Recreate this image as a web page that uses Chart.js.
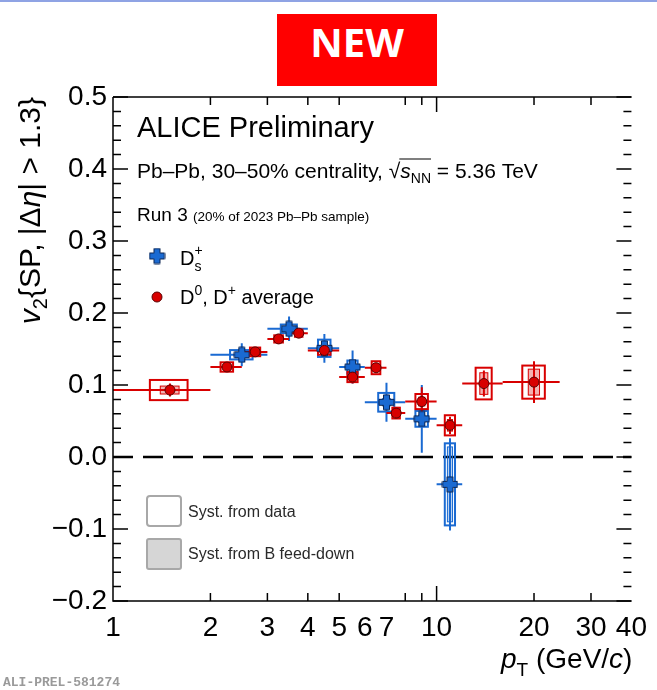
<!DOCTYPE html>
<html>
<head>
<meta charset="utf-8">
<script src="https://cdn.jsdelivr.net/npm/chart.js@4.4.1/dist/chart.umd.min.js"></script>
<style>
  html, body { margin: 0; padding: 0; background: #fff; }
  #wrap { position: relative; width: 657px; height: 690px; overflow: hidden; }
  #topline { position: absolute; left: 0; top: 0; width: 657px; height: 2px; background: #8fa3e4; }
  #badge {
    position: absolute; left: 277px; top: 14px; width: 160px; height: 72px;
    background: #ff0000; color: #fff; text-align: center; line-height: 72px;
    font: bold 40px "Liberation Sans Narrow", "Open Sans", sans-serif;
  }
  #tag {
    position: absolute; left: 3px; top: 675px; color: #9a9a9a;
    font: bold 13px "Liberation Mono", "DejaVu Sans Mono", monospace;
  }
  canvas { position: absolute; left: 0; top: 0; }
</style>
</head>
<body>
<div id="wrap">
  <canvas id="v2chart" width="657" height="690"></canvas>
  <div id="topline"></div>
  <div id="badge">NEW</div>
  <div id="tag">ALI-PREL-581274</div>
</div>
<script>
// D_s+ : pT bins, v2 and uncertainties
const dsPt   = [2.5, 3.5, 4.5, 5.5, 7, 9, 11];
const dsLow  = [2, 3, 4, 5, 6, 8, 10];
const dsHigh = [3, 4, 5, 6, 8, 10, 12];
const dsV2   = [0.142, 0.178, 0.151, 0.125, 0.076, 0.053, -0.038];
const dsStat = [0.016, 0.017, 0.020, 0.023, 0.027, 0.047, 0.064];
const dsSyst = [0.0065, 0.006, 0.012, 0.009, 0.013, 0.011, 0.057];
const dsFd   = [0.003, 0.003, 0.004, 0.004, 0.005, 0.005, 0.052];

// D0, D+ average
const dPt   = [1.5, 2.25, 2.75, 3.25, 3.75, 4.5, 5.5, 6.5, 7.5, 9, 11, 14, 20];
const dLow  = [1, 2, 2.5, 3, 3.5, 4, 5, 6, 7, 8, 10, 12, 16];
const dHigh = [2, 2.5, 3, 3.5, 4, 5, 6, 7, 8, 10, 12, 16, 24];
const dV2   = [0.093, 0.125, 0.146, 0.164, 0.172, 0.148, 0.111, 0.124, 0.061, 0.077, 0.044, 0.102, 0.104];
const dStat = [0.009, 0.004, 0.004, 0.004, 0.004, 0.005, 0.009, 0.006, 0.007, 0.020, 0.012, 0.018, 0.029];
const dSyst = [0.014, 0.0065, 0.006, 0.005, 0.005, 0.006, 0.007, 0.009, 0.0075, 0.0105, 0.014, 0.022, 0.023];
const dFd   = [0.0055, 0.003, 0.003, 0.003, 0.003, 0.003, 0.004, 0.005, 0.005, 0.006, 0.008, 0.015, 0.018];

// axis labelling
const xTickLabels = [1, 2, 3, 4, 5, 6, 7, 10, 20, 30, 40];
const xTickMarks  = [2, 3, 4, 5, 8, 9, 10, 20, 30];

const BLUE = '#1a6ad2';
const RED = '#d80000';
const FONT = '"Liberation Sans", Arial, sans-serif';

// filled thick cross used for the D_s marker
function plusMarker(size, arm, fill, edge) {
  const c = document.createElement('canvas');
  c.width = size; c.height = size;
  const g = c.getContext('2d');
  const m = size / 2, h = size / 2 - 1, a = arm / 2;
  g.beginPath();
  g.moveTo(m - a, m - h); g.lineTo(m + a, m - h); g.lineTo(m + a, m - a);
  g.lineTo(m + h, m - a); g.lineTo(m + h, m + a); g.lineTo(m + a, m + a);
  g.lineTo(m + a, m + h); g.lineTo(m - a, m + h); g.lineTo(m - a, m + a);
  g.lineTo(m - h, m + a); g.lineTo(m - h, m - a); g.lineTo(m - a, m - a);
  g.closePath();
  g.fillStyle = fill; g.fill();
  g.strokeStyle = edge; g.lineWidth = 1; g.stroke();
  return c;
}
const dsMarker = plusMarker(17, 6, BLUE, '#0b2552');

// text with sub/superscripts: each part {t, size, italic, dy, stack}
function richText(ctx, x, y, parts, align) {
  const fontOf = p => (p.italic ? 'italic ' : '') + p.size + 'px ' + FONT;
  let total = 0, pending = 0;
  parts.forEach(p => {
    ctx.font = fontOf(p);
    const w = ctx.measureText(p.t).width;
    if (p.stack) { pending = Math.max(pending, w); }
    else { total += Math.max(pending, w); pending = 0; }
  });
  total += pending;
  let cx = align === 'right' ? x - total : x;
  pending = 0;
  ctx.textAlign = 'left';
  ctx.textBaseline = 'alphabetic';
  parts.forEach(p => {
    ctx.font = fontOf(p);
    ctx.fillText(p.t, cx, y + (p.dy || 0));
    const w = ctx.measureText(p.t).width;
    if (p.stack) { pending = Math.max(pending, w); }
    else { cx += Math.max(pending, w); pending = 0; }
  });
  return total;
}

function drawUncertainties(ctx, xs, ys, pt, lo, hi, v, stat, syst, fd, color, fdFill) {
  ctx.save();
  for (let i = 0; i < pt.length; i++) {
    const w = hi[i] - lo[i];
    // systematic from data
    const bx0 = xs.getPixelForValue(pt[i] - 0.2 * w), bx1 = xs.getPixelForValue(pt[i] + 0.2 * w);
    const by0 = ys.getPixelForValue(v[i] + syst[i]), by1 = ys.getPixelForValue(v[i] - syst[i]);
    ctx.strokeStyle = color; ctx.lineWidth = 2;
    ctx.strokeRect(bx0, by0, bx1 - bx0, by1 - by0);
    // B feed-down
    const fx0 = xs.getPixelForValue(pt[i] - 0.1 * w), fx1 = xs.getPixelForValue(pt[i] + 0.1 * w);
    const fy0 = ys.getPixelForValue(v[i] + fd[i]), fy1 = ys.getPixelForValue(v[i] - fd[i]);
    ctx.fillStyle = fdFill;
    ctx.fillRect(fx0, fy0, fx1 - fx0, fy1 - fy0);
    ctx.lineWidth = 1;
    ctx.strokeRect(fx0, fy0, fx1 - fx0, fy1 - fy0);
    // statistical bars and bin width
    const py = ys.getPixelForValue(v[i]), px = xs.getPixelForValue(pt[i]);
    ctx.lineWidth = 2;
    ctx.beginPath();
    ctx.moveTo(xs.getPixelForValue(lo[i]), py); ctx.lineTo(xs.getPixelForValue(hi[i]), py);
    ctx.moveTo(px, ys.getPixelForValue(v[i] + stat[i])); ctx.lineTo(px, ys.getPixelForValue(v[i] - stat[i]));
    ctx.stroke();
  }
  ctx.restore();
}

const alicePlot = {
  id: 'alicePlot',
  beforeDatasetsDraw(chart) {
    const { ctx, scales: { x, y }, chartArea: a } = chart;
    // zero line
    ctx.save();
    ctx.strokeStyle = '#000'; ctx.lineWidth = 2.5; ctx.setLineDash([20, 10]);
    ctx.beginPath();
    ctx.moveTo(a.left, y.getPixelForValue(0)); ctx.lineTo(a.right, y.getPixelForValue(0));
    ctx.stroke();
    ctx.restore();
    drawUncertainties(ctx, x, y, dsPt, dsLow, dsHigh, dsV2, dsStat, dsSyst, dsFd, BLUE, 'rgba(26,106,210,0.3)');
    drawUncertainties(ctx, x, y, dPt, dLow, dHigh, dV2, dStat, dSyst, dFd, RED, 'rgba(216,0,0,0.3)');
  },
  afterDraw(chart) {
    const { ctx, scales: { x, y }, chartArea: a } = chart;
    ctx.save();
    ctx.strokeStyle = '#000'; ctx.lineWidth = 1.5;
    // frame
    ctx.beginPath();
    ctx.moveTo(a.left, a.top); ctx.lineTo(a.left, a.bottom); ctx.lineTo(a.right, a.bottom);
    ctx.moveTo(a.left, a.top); ctx.lineTo(a.right, a.top);
    ctx.stroke();
    // y ticks on both sides, every 0.02 with longer ones at every 0.1
    ctx.beginPath();
    for (let k = -10; k <= 25; k++) {
      const py = y.getPixelForValue(k * 0.02);
      const len = k % 5 === 0 ? 15 : 8;
      ctx.moveTo(a.left, py); ctx.lineTo(a.left + len, py);
      ctx.moveTo(a.right, py); ctx.lineTo(a.right - len, py);
    }
    // x ticks top and bottom
    xTickMarks.forEach(v => {
      const px = x.getPixelForValue(v);
      const len = v === 10 ? 15 : 8;
      ctx.moveTo(px, a.bottom); ctx.lineTo(px, a.bottom - len);
      ctx.moveTo(px, a.top); ctx.lineTo(px, a.top + len);
    });
    ctx.stroke();

    ctx.fillStyle = '#000';
    // axis titles
    richText(ctx, a.right + 1, 668, [
      { t: 'p', size: 28, italic: true },
      { t: 'T', size: 19, dy: 8 },
      { t: ' (GeV/', size: 28 },
      { t: 'c', size: 28, italic: true },
      { t: ')', size: 28 }
    ], 'right');
    ctx.save();
    ctx.translate(40, a.top);
    ctx.rotate(-Math.PI / 2);
    richText(ctx, 0, 0, [
      { t: 'v', size: 30, italic: true },
      { t: '2', size: 20, dy: 7 },
      { t: '{SP, |Δ', size: 30 },
      { t: 'η', size: 30, italic: true },
      { t: '| > 1.3}', size: 30 }
    ], 'right');
    ctx.restore();

    // labels
    const tx = a.left + 24;
    richText(ctx, tx, 137, [{ t: 'ALICE Preliminary', size: 29 }]);
    const pre = richText(ctx, tx, 178, [{ t: 'Pb–Pb, 30–50% centrality, √', size: 21 }]);
    const root = richText(ctx, tx + pre, 178, [
      { t: 's', size: 21, italic: true },
      { t: 'NN', size: 14, dy: 5 }
    ]);
    richText(ctx, tx + pre + root, 178, [{ t: ' = 5.36 TeV', size: 21 }]);
    // overline of the square root
    ctx.lineWidth = 1.2;
    ctx.beginPath();
    ctx.moveTo(tx + pre - 1, 178 - 19); ctx.lineTo(tx + pre + root, 178 - 19);
    ctx.stroke();

    richText(ctx, tx, 221, [
      { t: 'Run 3 ', size: 19 },
      { t: '(20% of 2023 Pb–Pb sample)', size: 13.5 }
    ]);

    // legend
    ctx.drawImage(dsMarker, 157 - 8.5, 256 - 8.5);
    richText(ctx, 180, 265, [
      { t: 'D', size: 20 },
      { t: '+', size: 14, dy: -10, stack: true },
      { t: 's', size: 14, dy: 6 }
    ]);
    ctx.beginPath();
    ctx.arc(157, 297, 5, 0, Math.PI * 2);
    ctx.fillStyle = RED; ctx.fill();
    ctx.strokeStyle = '#5a0000'; ctx.lineWidth = 1; ctx.stroke();
    ctx.fillStyle = '#000';
    richText(ctx, 180, 304, [
      { t: 'D', size: 20 },
      { t: '0', size: 14, dy: -9 },
      { t: ', D', size: 20 },
      { t: '+', size: 14, dy: -9 },
      { t: ' average', size: 20 }
    ]);

    // uncertainty legend
    ctx.lineWidth = 2; ctx.strokeStyle = '#a8a8a8';
    ctx.beginPath(); ctx.roundRect(147, 496, 34, 30, 3); ctx.stroke();
    ctx.fillStyle = '#d6d6d6';
    ctx.beginPath(); ctx.roundRect(147, 539, 34, 30, 2); ctx.fill(); ctx.stroke();
    ctx.fillStyle = '#2a2a2a';
    richText(ctx, 188, 517, [{ t: 'Syst. from data', size: 16 }]);
    richText(ctx, 188, 559, [{ t: 'Syst. from B feed-down', size: 16 }]);
    ctx.restore();
  }
};

new Chart(document.getElementById('v2chart'), {
  type: 'scatter',
  data: {
    datasets: [
      {
        label: 'D0, D+ average',
        data: dPt.map((p, i) => ({ x: p, y: dV2[i] })),
        pointStyle: 'circle',
        pointRadius: 5,
        backgroundColor: RED,
        borderColor: '#5a0000',
        borderWidth: 1,
        order: 0
      },
      {
        label: 'Ds+',
        data: dsPt.map((p, i) => ({ x: p, y: dsV2[i] })),
        pointStyle: dsMarker,
        order: 1
      }
    ]
  },
  options: {
    responsive: false,
    animation: false,
    devicePixelRatio: 1,
    layout: { padding: { top: 97, right: 17, bottom: 0, left: 0 } },
    plugins: { legend: { display: false }, tooltip: { enabled: false } },
    scales: {
      x: {
        type: 'logarithmic',
        min: 1,
        max: 40,
        grid: { display: false, drawTicks: false },
        border: { display: false },
        afterBuildTicks: s => { s.ticks = xTickLabels.map(v => ({ value: v })); },
        afterFit: s => { s.height = 89; },
        ticks: {
          autoSkip: false,
          maxRotation: 0,
          padding: 10,
          color: '#000',
          font: { family: FONT, size: 28 },
          callback: v => String(v)
        }
      },
      y: {
        min: -0.2,
        max: 0.5,
        grid: { display: false, drawTicks: false },
        border: { display: false },
        afterFit: s => { s.width = 113; },
        ticks: {
          stepSize: 0.1,
          padding: 6,
          color: '#000',
          font: { family: FONT, size: 28 },
          callback: v => Math.abs(v) < 1e-9 ? '0.0' : (v < 0 ? '\u2212' : '') + Math.abs(v).toFixed(1)
        }
      }
    }
  },
  plugins: [alicePlot]
});
</script>
</body>
</html>
